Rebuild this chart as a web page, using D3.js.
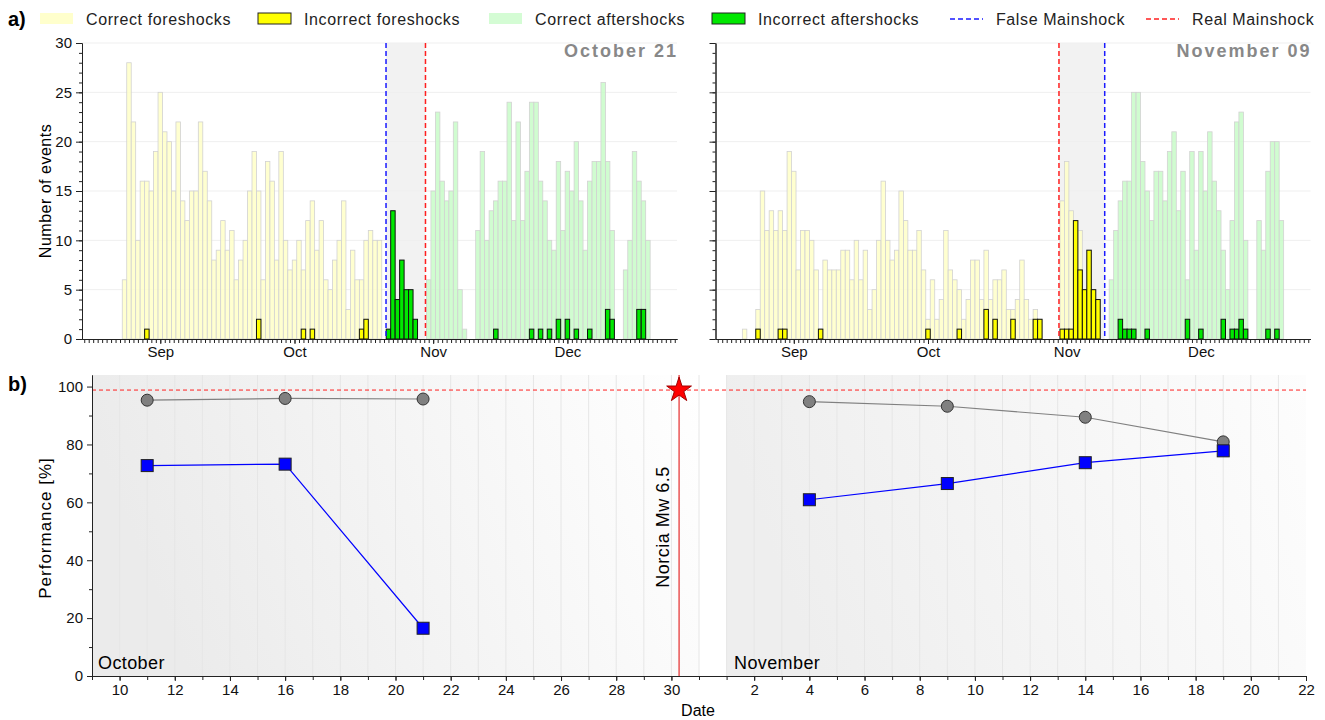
<!DOCTYPE html>
<html>
<head>
<meta charset="utf-8">
<script src="https://cdn.jsdelivr.net/npm/d3@7"></script>
<style>
  body { margin: 0; background: #fff; }
  svg { font-family: "Liberation Sans", Arial, sans-serif; }
</style>
</head>
<body>
<div id="chart-area"></div>
<script>

// ---------- data ----------

// panel a) left : false mainshock October 21
let octCorrectForeStart = "2016-08-24";
let octCorrectFore = [6,28,22,10,16,16,15,19,25,21,20,15,22,14,12,15,15,22,17,14,8,9,12,9,11,6,8,10,15,19,
                      15,6,18,16,8,19,10,7,8,10,7,12,14,9,12,6,5,8,10,14,3,9,6,6,10,11,10,10];
let octWrongForeDays = ["2016-08-29","2016-09-23","2016-10-03","2016-10-05","2016-10-16","2016-10-17"];
let octWrongFore = [1,2,1,1,1,2];
let octCorrectAfterStart = "2016-10-31";
let octCorrectAfter = [6,15,23,16,14,15,22,5,1,0,0,
                       11,19,10,13,14,16,16,24,12,22,12,17,24,24,16,14,10,9,18,11,17,15,20,14,9,16,18,18,26,18,11,
                       0,0,7,10,19,16,14,10];
let octWrongAfterDays = ["2016-10-22","2016-10-23","2016-10-24","2016-10-25","2016-10-26","2016-10-27","2016-10-28",
                         "2016-11-15","2016-11-23","2016-11-25","2016-11-27","2016-11-29","2016-12-01","2016-12-03",
                         "2016-12-06","2016-12-10","2016-12-11","2016-12-17","2016-12-18"];
let octWrongAfter = [1,13,4,8,5,5,2, 1,1,1,1,2,2,1, 1,3,2,3,3];

// panel a) right : false mainshock November 09
let novCorrectForeStart = "2016-08-21";
let novCorrectFore = [1,0,0,
                      3,15,11,13,11,13,11,19,17,7,11,11,10,7,1,8,7,7,7,9,9,6,10,6,9,3,5,10,16,10,
                      8,9,15,12,9,9,11,7,2,6,2,4,11,7,6,5,2,4,8,8,4,9,4,6,6,7,3,3,4,8,4,2,3,2,
                      0,0,0,0,
                      14,18,13,12,11,5,9,5,4];
let novWrongForeDays = ["2016-08-24","2016-08-29","2016-08-30","2016-09-07","2016-10-01","2016-10-08","2016-10-14",
                        "2016-10-16","2016-10-20","2016-10-25","2016-10-26",
                        "2016-10-31","2016-11-01","2016-11-02","2016-11-03","2016-11-04","2016-11-05","2016-11-06",
                        "2016-11-07","2016-11-08"];
let novWrongFore = [1,1,1,1,1,1,3,2,2,2,2, 1,1,1,12,7,5,9,5,4];
let novCorrectAfterStart = "2016-11-11";
let novCorrectAfter = [6,11,14,16,16,25,25,18,15,12,17,17,14,19,21,13,17,6,19,9,19,15,21,16,13,9,5,12,22,23,10,
                       0,0,12,9,17,20,20,12];
let novWrongAfterDays = ["2016-11-13","2016-11-14","2016-11-15","2016-11-16","2016-11-19","2016-11-28","2016-12-01",
                         "2016-12-06","2016-12-08","2016-12-09","2016-12-10","2016-12-11","2016-12-16","2016-12-18"];
let novWrongAfter = [2,1,1,1,1,2,1,2,1,1,2,1,1,1];

let realMainshock = "2016-10-30T06:40";
let falseMainshocks = ["2016-10-21T11:00", "2016-11-09T12:00"];
let panelTitles = ["October 21", "November 09"];

// panel b)
let perfDatesOct = ["2016-10-11","2016-10-16","2016-10-21"];
let precisionOct = [95.3, 95.9, 95.7];
let recallOct = [72.7, 73.2, 16.5];
let perfDatesNov = ["2016-11-04","2016-11-09","2016-11-14","2016-11-19"];
let precisionNov = [94.8, 93.2, 89.4, 80.9];
let recallNov = [60.9, 66.5, 73.7, 77.8];
let referenceLevel = 98.8;

// ---------- helpers ----------

let parse = d3.timeParse("%Y-%m-%d");
let parseT = d3.timeParse("%Y-%m-%dT%H:%M");

function daily(start, values) {
	return values.map((v, i) => ({date: d3.timeDay.offset(parse(start), i), value: v}))
		.filter(d => d.value > 0);
}
function sparse(days, values) {
	return days.map((d, i) => ({date: parse(d), value: values[i]}));
}

let svg = d3.select("#chart-area").append("svg")
	.attr("width", 1325)
	.attr("height", 720);

let defs = svg.append("defs");

// ---------- panel a) ----------

let yTop = d3.scaleLinear().domain([0, 30]).range([339, 43]);
let topDomain = [parseT("2016-08-14T12:00"), parseT("2016-12-25T12:00")];

let panels = [
	{range: [82, 677], labels: true, title: panelTitles[0], fake: falseMainshocks[0],
	 cf: daily(octCorrectForeStart, octCorrectFore), wf: sparse(octWrongForeDays, octWrongFore),
	 ca: daily(octCorrectAfterStart, octCorrectAfter), wa: sparse(octWrongAfterDays, octWrongAfter)},
	{range: [715.5, 1310.5], labels: false, title: panelTitles[1], fake: falseMainshocks[1],
	 cf: daily(novCorrectForeStart, novCorrectFore), wf: sparse(novWrongForeDays, novWrongFore),
	 ca: daily(novCorrectAfterStart, novCorrectAfter), wa: sparse(novWrongAfterDays, novWrongAfter)}
];

function drawBars(g, x, data, fill, stroke, sw, opacity) {
	g.append("g").selectAll("rect")
		.data(data)
		.enter().append("rect")
		.attr("x", d => x(d3.timeHour.offset(d.date, -12)))
		.attr("width", d => x(d3.timeHour.offset(d.date, 12)) - x(d3.timeHour.offset(d.date, -12)))
		.attr("y", d => yTop(d.value))
		.attr("height", d => yTop(0) - yTop(d.value))
		.attr("fill", fill)
		.attr("fill-opacity", opacity)
		.attr("stroke", stroke)
		.attr("stroke-width", sw);
}

panels.forEach(function(p) {
	let x = d3.scaleTime().domain(topDomain).range(p.range);
	let g = svg.append("g");

	let real = parseT(realMainshock), fake = parseT(p.fake);
	let b0 = real < fake ? real : fake, b1 = real < fake ? fake : real;

	// shaded band between the two mainshocks
	g.append("rect")
		.attr("x", x(b0)).attr("width", x(b1) - x(b0))
		.attr("y", yTop(30)).attr("height", yTop(0) - yTop(30))
		.attr("fill", "#f2f2f2");

	// grid
	g.append("g").selectAll("line")
		.data(d3.range(5, 31, 5))
		.enter().append("line")
		.attr("x1", p.range[0]).attr("x2", p.range[1])
		.attr("y1", d => yTop(d)).attr("y2", d => yTop(d))
		.attr("stroke", "#efefef");

	drawBars(g, x, p.cf, "#ffffc8", "#d2d2d2", 0.8, 0.85);
	drawBars(g, x, p.ca, "#c8fcc8", "#d2d2d2", 0.8, 0.85);
	drawBars(g, x, p.wf, "#ffff00", "#111", 1, 1);
	drawBars(g, x, p.wa, "#00e800", "#111", 1, 1);

	// mainshock lines
	[[fake, "#1a1aff"], [real, "#ff2020"]].forEach(function(m) {
		g.append("line")
			.attr("x1", x(m[0])).attr("x2", x(m[0]))
			.attr("y1", yTop(30)).attr("y2", yTop(0))
			.attr("stroke", m[1])
			.attr("stroke-width", 1.5)
			.attr("stroke-dasharray", "5,3");
	});

	// axes
	let xMinor = d3.axisBottom(x).ticks(d3.timeDay.every(1)).tickSize(4).tickSizeOuter(0).tickFormat("");
	let xMajor = d3.axisBottom(x).ticks(d3.timeMonth.every(1)).tickSize(5).tickSizeOuter(0)
		.tickPadding(2).tickFormat(d3.timeFormat("%b"));
	let yMinor = d3.axisLeft(yTop).ticks(30).tickSize(3).tickSizeOuter(0).tickFormat("");
	let yMajor = d3.axisLeft(yTop).tickValues(d3.range(0, 31, 5)).tickSize(6).tickSizeOuter(0)
		.tickPadding(4).tickFormat(p.labels ? d3.format("d") : "");

	[xMinor, xMajor].forEach(function(a) {
		g.append("g").attr("transform", "translate(0," + yTop(0) + ")").call(a);
	});
	[yMinor, yMajor].forEach(function(a) {
		g.append("g").attr("transform", "translate(" + p.range[0] + ",0)").call(a);
	});

	g.append("text")
		.attr("x", p.range[1] + 1)
		.attr("y", 57)
		.attr("text-anchor", "end")
		.attr("font-size", 18)
		.attr("font-weight", "bold")
		.attr("letter-spacing", 2)
		.attr("fill", "#888")
		.text(p.title);
});

svg.append("text")
	.attr("transform", "translate(51,191) rotate(-90)")
	.attr("text-anchor", "middle")
	.attr("font-size", 16)
	.attr("letter-spacing", 0.5)
	.text("Number of events");

// legend
let legendItems = [
	{label: "Correct foreshocks", x: 40, type: "box", fill: "#ffffcc", stroke: "none"},
	{label: "Incorrect foreshocks", x: 258, type: "box", fill: "#ffff00", stroke: "#222"},
	{label: "Correct aftershocks", x: 489, type: "box", fill: "#d4fcd4", stroke: "none"},
	{label: "Incorrect aftershocks", x: 712, type: "box", fill: "#00e800", stroke: "#222"},
	{label: "False Mainshock", x: 950, type: "dash", fill: "#1a1aff"},
	{label: "Real Mainshock", x: 1146, type: "dash", fill: "#ff2020"}
];
let legend = svg.append("g");
legendItems.forEach(function(d) {
	if (d.type === "box") {
		legend.append("rect")
			.attr("x", d.x).attr("y", 13).attr("width", 33).attr("height", 11)
			.attr("fill", d.fill).attr("stroke", d.stroke);
	} else {
		legend.append("line")
			.attr("x1", d.x).attr("x2", d.x + 33).attr("y1", 19).attr("y2", 19)
			.attr("stroke", d.fill).attr("stroke-width", 1.5).attr("stroke-dasharray", "5,3");
	}
	legend.append("text")
		.attr("x", d.x + 46)
		.attr("y", 25)
		.attr("font-size", 16)
		.attr("letter-spacing", 0.6)
		.attr("fill", "#222")
		.text(d.label);
});

svg.append("text").attr("x", 8).attr("y", 26).attr("font-size", 20).attr("font-weight", "bold").text("a)");
svg.append("text").attr("x", 8).attr("y", 391).attr("font-size", 20).attr("font-weight", "bold").text("b)");

// ---------- panel b) ----------

let xBot = d3.scaleTime().domain([parse("2016-10-09"), parse("2016-11-22")]).range([92, 1306]);
let yBot = d3.scaleLinear().domain([0, 104]).range([676, 375]);

let gradients = [
	{id: "gOct", from: "#ebebeb", to: "#ffffff", start: "2016-10-09", end: "2016-10-31"},
	{id: "gNov", from: "#eeeeee", to: "#fdfdfd", start: "2016-11-01", end: "2016-11-22"}
];
let gb = svg.append("g");
gradients.forEach(function(d) {
	let lg = defs.append("linearGradient").attr("id", d.id)
		.attr("x1", "0").attr("y1", "0.2").attr("x2", "1").attr("y2", "0");
	lg.append("stop").attr("offset", "0").attr("stop-color", d.from);
	lg.append("stop").attr("offset", "1").attr("stop-color", d.to);
	gb.append("rect")
		.attr("x", xBot(parse(d.start)))
		.attr("width", xBot(parse(d.end)) - xBot(parse(d.start)))
		.attr("y", yBot(104)).attr("height", yBot(0) - yBot(104))
		.attr("fill", "url(#" + d.id + ")");
});

// daily grid
gb.append("g").selectAll("line")
	.data(d3.timeDay.range(d3.timeDay.offset(xBot.domain()[0], 1), xBot.domain()[1]))
	.enter().append("line")
	.attr("x1", d => xBot(d)).attr("x2", d => xBot(d))
	.attr("y1", yBot(104)).attr("y2", yBot(0))
	.attr("stroke", "#e6e6e6");

// reference level
gb.append("line")
	.attr("x1", xBot.range()[0]).attr("x2", xBot.range()[1])
	.attr("y1", yBot(referenceLevel)).attr("y2", yBot(referenceLevel))
	.attr("stroke", "#ff2020").attr("stroke-dasharray", "4,3");

// Norcia mainshock
let norcia = parseT(realMainshock);
gb.append("line")
	.attr("x1", xBot(norcia)).attr("x2", xBot(norcia))
	.attr("y1", yBot(104)).attr("y2", yBot(0))
	.attr("stroke", "#e00000").attr("stroke-width", 1);

gb.append("text")
	.attr("transform", "translate(" + (xBot(norcia) - 10) + "," + 527 + ") rotate(-90)")
	.attr("text-anchor", "middle")
	.attr("font-size", 18)
	.attr("letter-spacing", 0.5)
	.text("Norcia Mw 6.5");

gb.append("text").attr("x", 98).attr("y", 669).attr("font-size", 18).attr("letter-spacing", 0.4).text("October");
gb.append("text").attr("x", 734).attr("y", 669).attr("font-size", 18).attr("letter-spacing", 0.4).text("November");

// series
let groups = [
	{dates: perfDatesOct, prec: precisionOct, rec: recallOct},
	{dates: perfDatesNov, prec: precisionNov, rec: recallNov}
];
let line = d3.line().x(d => xBot(d.date)).y(d => yBot(d.value));

groups.forEach(function(gr) {
	let prec = gr.dates.map((d, i) => ({date: parse(d), value: gr.prec[i]}));
	let rec = gr.dates.map((d, i) => ({date: parse(d), value: gr.rec[i]}));

	gb.append("path").datum(prec).attr("d", line)
		.attr("fill", "none").attr("stroke", "#808080").attr("stroke-width", 1.2);
	gb.append("path").datum(rec).attr("d", line)
		.attr("fill", "none").attr("stroke", "#0000ff").attr("stroke-width", 1.2);

	gb.append("g").selectAll("circle")
		.data(prec)
		.enter().append("circle")
		.attr("cx", d => xBot(d.date)).attr("cy", d => yBot(d.value))
		.attr("r", 6)
		.attr("fill", "#808080").attr("stroke", "#333");

	gb.append("g").selectAll("rect")
		.data(rec)
		.enter().append("rect")
		.attr("x", d => xBot(d.date) - 6).attr("y", d => yBot(d.value) - 6)
		.attr("width", 12).attr("height", 12)
		.attr("fill", "#0000ff").attr("stroke", "#222");
});

gb.append("path")
	.attr("transform", "translate(" + xBot(norcia) + "," + yBot(referenceLevel) + ")")
	.attr("d", d3.symbol().type(d3.symbolStar).size(190))
	.attr("fill", "#ff0000").attr("stroke", "#a00000");

// axes b)
let bxMinor = d3.axisBottom(xBot).ticks(d3.timeDay.every(1)).tickSize(4).tickSizeOuter(0).tickFormat("");
let bxMajor = d3.axisBottom(xBot)
	.tickValues(d3.timeDay.range(xBot.domain()[0], d3.timeDay.offset(xBot.domain()[1], 1)).filter(d => d.getDate() % 2 === 0))
	.tickSize(5).tickSizeOuter(0).tickPadding(3.5).tickFormat(d3.timeFormat("%-d"));
let byMinor = d3.axisLeft(yBot).tickValues(d3.range(10, 100, 20)).tickSize(3).tickSizeOuter(0).tickFormat("");
let byMajor = d3.axisLeft(yBot).tickValues(d3.range(0, 101, 20)).tickSize(5).tickSizeOuter(0).tickPadding(4);

[bxMinor, bxMajor].forEach(a => svg.append("g").attr("transform", "translate(0," + yBot(0) + ")").call(a));
[byMinor, byMajor].forEach(a => svg.append("g").attr("transform", "translate(" + xBot.range()[0] + ",0)").call(a));

svg.append("text")
	.attr("transform", "translate(51,528) rotate(-90)")
	.attr("text-anchor", "middle")
	.attr("font-size", 17)
	.attr("letter-spacing", 1)
	.text("Performance [%]");

svg.append("text")
	.attr("x", 698).attr("y", 716)
	.attr("text-anchor", "middle")
	.attr("font-size", 16)
	.text("Date");

// shared axis styling
svg.selectAll(".tick text").attr("font-size", 15).attr("fill", "#111");
svg.selectAll(".domain").attr("stroke", "#222");
svg.selectAll(".tick line").attr("stroke", "#222");

</script>
</body>
</html>
